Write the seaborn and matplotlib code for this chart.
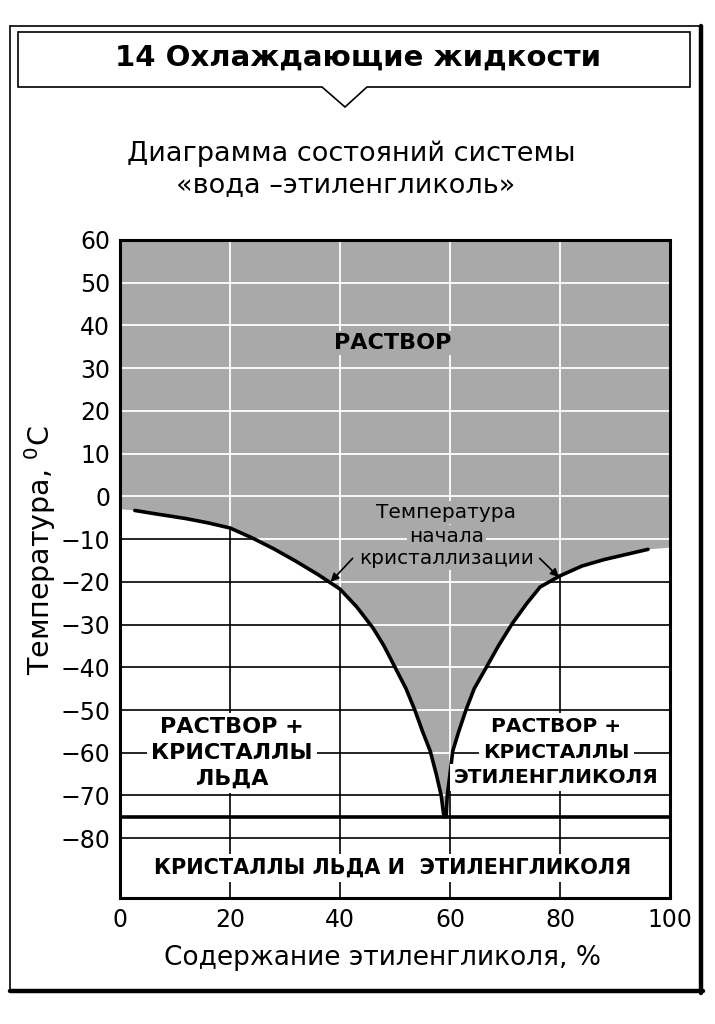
import numpy as np
import pandas as pd
import matplotlib
matplotlib.use('Agg')
import matplotlib.pyplot as plt
import matplotlib.transforms as mtransforms
from matplotlib.patches import Polygon
from matplotlib.lines import Line2D
import seaborn as sns

# liquidus, ice branch (% ethylene glycol -> temperature, C)
ice_x = [2.7, 7, 12, 16, 20, 24, 28, 32, 36, 40, 43, 46, 48, 50, 52, 53.6,
         55, 56.4, 57.5, 58.4, 58.9]
ice_t = [-3.3, -4.2, -5.2, -6.2, -7.4, -9.7, -12.3, -15.2, -18.3, -21.7, -25.8,
         -30.8, -35, -40, -45, -50, -55, -59.6, -65, -70, -75]
# liquidus, glycol branch
gly_x = [59.3, 59.5, 60.0, 60.5, 61.6, 62.9, 64.4, 66.7, 68.8, 71.3, 74, 76.4,
         80, 84, 88, 92, 96]
gly_t = [-75, -70, -65, -59.6, -55, -50, -45, -39.8, -35, -29.8, -25, -21.2,
         -18.6, -16.3, -14.8, -13.6, -12.4]
edge_t = [-3.0, -12.0]   # shaded area meets left / right axis here
eutectic_t = -75

x_ticks = [0, 20, 40, 60, 80, 100]
y_ticks = list(range(-80, 61, 10))
grid_x = [20, 40, 60, 80]
grid_y = list(range(-80, 60, 10))

title = '14 Охлаждающие жидкости'
subtitle = ['Диаграмма состояний системы', '«вода –этиленгликоль»']
xlabel = 'Содержание этиленгликоля, %'
ylabel = r'Температура, $^{0}$C'
liquid_label = 'РАСТВОР'
ice_label = ['РАСТВОР +', 'КРИСТАЛЛЫ', 'ЛЬДА']
gly_label = ['РАСТВОР +', 'КРИСТАЛЛЫ', 'ЭТИЛЕНГЛИКОЛЯ']
solid_label = 'КРИСТАЛЛЫ ЛЬДА И  ЭТИЛЕНГЛИКОЛЯ'
curve_label = ['Температура', 'начала', 'кристаллизации']

GRAY = '#a9a9a9'

sns.set_theme(style='white')
plt.rcParams['font.family'] = ['DejaVu Sans']
plt.rcParams['mathtext.fontset'] = 'dejavusans'
plt.rcParams['text.color'] = 'black'
plt.rcParams['xtick.color'] = 'black'
plt.rcParams['ytick.color'] = 'black'

W, H = 715, 1024
fig = plt.figure(figsize=(W / 100, H / 100), dpi=100)


def fx(px):
    return px / W


def fy(py):
    return 1 - py / H


ax = fig.add_axes([fx(120), fy(898), 550 / W, 658 / H])
ax.set_xlim(0, 100)
ax.set_ylim(-94, 60)

# black grid in the crystal regions
for gx in grid_x:
    ax.axvline(gx, color='black', lw=1.2, zorder=1)
for gy in grid_y:
    ax.axhline(gy, color='black', lw=1.2, zorder=1)

# shaded solution region above the liquidus
fill_x = [0] + ice_x + gly_x + [100, 100, 0]
fill_t = [edge_t[0]] + ice_t + gly_t + [edge_t[1], 60, 60]
patch = ax.fill(fill_x, fill_t, color=GRAY, lw=0, zorder=2)[0]

# white grid inside the shaded region
for gx in grid_x:
    ln = ax.axvline(gx, color='white', lw=1.3, zorder=3)
    ln.set_clip_path(patch)
for gy in grid_y:
    ln = ax.axhline(gy, color='white', lw=1.3, zorder=3)
    ln.set_clip_path(patch)

curve = pd.DataFrame({'x': ice_x + gly_x, 't': ice_t + gly_t})
sns.lineplot(data=curve, x='x', y='t', sort=False, estimator=None,
             color='black', lw=2.6, ax=ax, zorder=4)
ax.axhline(eutectic_t, color='black', lw=2.6, zorder=4)

for s in ax.spines.values():
    s.set_linewidth(2.2)
    s.set_color('black')
    s.set_zorder(6)

ax.set_xticks(x_ticks)
ax.set_yticks(y_ticks)
ax.tick_params(length=0, labelsize=17, pad=7, colors='black')
ax.set_xlabel('')
ax.set_ylabel('')


def stacked(x, y, lines, offsets, bg, pad=1.5, **kw):
    for line, off in zip(lines, offsets):
        tr = mtransforms.offset_copy(ax.transData, fig=fig, x=0, y=off, units='dots')
        ax.text(x, y, line, transform=tr, ha='center', va='center', zorder=5,
                bbox=dict(facecolor=bg, edgecolor='none', pad=pad), **kw)


bold = dict(fontsize=16, fontweight='bold', color='black')
stacked(49.5, 36, [liquid_label], [0], GRAY, **bold)
stacked(20.4, -60, ice_label, [26, 0, -26], 'white', pad=3, **bold)
stacked(79.3, -60, gly_label, [26, 0, -25], 'white', pad=3, **dict(bold, fontsize=14.5))
stacked(49.5, -87, [solid_label], [0], 'white', pad=3, **dict(bold, fontsize=15))
stacked(59.3, -9.3, curve_label, [24, 0, -22], GRAY, fontsize=14.5, color='black')

arrow = dict(arrowstyle='-|>', color='black', lw=1.2, mutation_scale=12,
             shrinkA=0, shrinkB=0)
ax.annotate('', xy=(38.3, -20), xytext=(42.3, -14.5), arrowprops=arrow, zorder=5)
ax.annotate('', xy=(79.8, -18.9), xytext=(76.3, -14.5), arrowprops=arrow, zorder=5)

fig.text(fx(383), fy(958), xlabel, ha='center', va='center', fontsize=19)
fig.text(fx(40), fy(550), ylabel, ha='center', va='center', rotation=90, fontsize=20.5)

# outer frame with shadow on right / bottom
fig.add_artist(Line2D([fx(10), fx(701)], [fy(26), fy(26)], color='black', lw=1.2))
fig.add_artist(Line2D([fx(10), fx(10)], [fy(26), fy(991)], color='black', lw=1.2))
fig.add_artist(Line2D([fx(701), fx(701)], [fy(26), fy(993)], color='black', lw=3.2))
fig.add_artist(Line2D([fx(10), fx(703)], [fy(991), fy(991)], color='black', lw=3.2))

# title box with pointer
box = [(18, 32), (690, 32), (690, 87), (367, 87), (345, 107), (322, 87), (18, 87)]
fig.add_artist(Polygon([(fx(a), fy(b)) for a, b in box], closed=True,
                       facecolor='white', edgecolor='black', lw=1.2,
                       transform=fig.transFigure))
fig.text(fx(358), fy(58), title, ha='center', va='center', fontsize=21,
         fontweight='bold')
fig.text(fx(351), fy(154), subtitle[0], ha='center', va='center', fontsize=19.5)
fig.text(fx(346), fy(185), subtitle[1], ha='center', va='center', fontsize=19.5)

fig.savefig('out.png', dpi=100, facecolor='white')
